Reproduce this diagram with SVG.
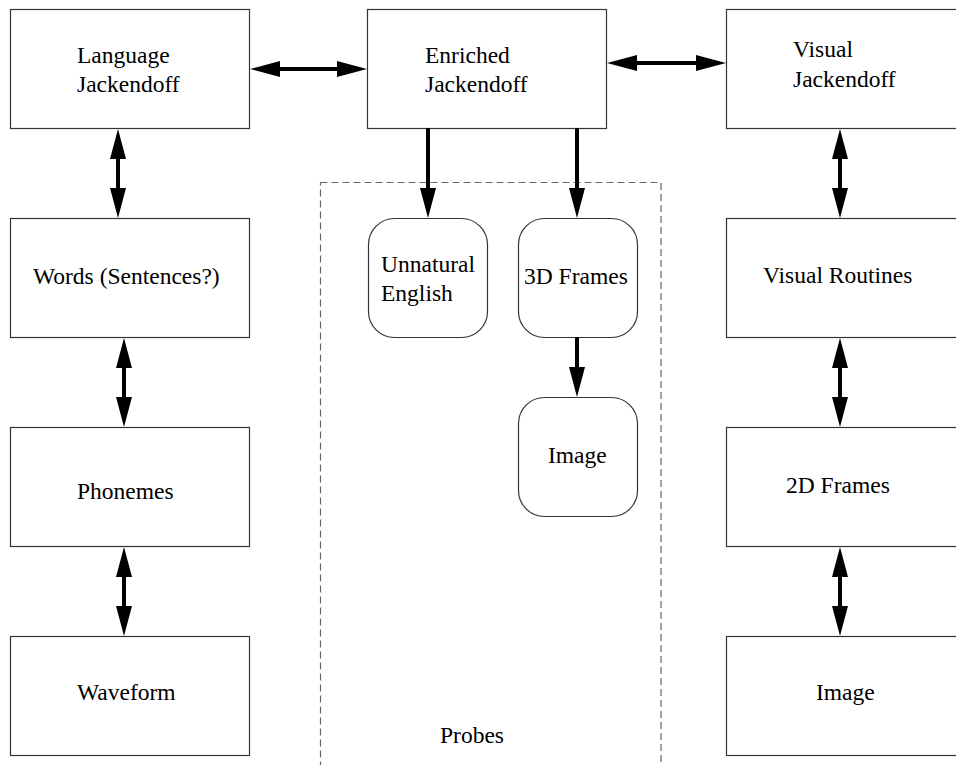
<svg xmlns="http://www.w3.org/2000/svg" width="956" height="765" viewBox="0 0 956 765">
<style>
.box{fill:#fff;stroke:#333;stroke-width:1.2}
.t{font-family:"Liberation Serif","Times New Roman",serif;font-size:23.5px;fill:#000}
.c{stroke:#000;stroke-width:4;fill:none}
.dash{fill:none;stroke:#666;stroke-width:1.2;stroke-dasharray:7 4}
</style>
<defs>
<marker id="ah" viewBox="0 0 30 16" refX="15" refY="8" markerWidth="30" markerHeight="16" markerUnits="userSpaceOnUse" orient="auto-start-reverse">
<path d="M0,0 L30,8 L0,16 z" fill="#000"/>
</marker>
</defs>
<rect width="956" height="765" fill="#fff"/>
<rect class="dash" x="320.5" y="182.5" width="340.5" height="640"/>
<text class="t" x="440" y="743">Probes</text>

<g id="language-jackendoff"><rect class="box" x="10.5" y="9.5" width="239" height="119"/><text class="t" x="77" y="63">Language</text><text class="t" x="77" y="92">Jackendoff</text></g>
<g id="words"><rect class="box" x="10.5" y="218.5" width="239" height="119"/><text class="t" x="33" y="284">Words (Sentences?)</text></g>
<g id="phonemes"><rect class="box" x="10.5" y="427.5" width="239" height="119"/><text class="t" x="77" y="499">Phonemes</text></g>
<g id="waveform"><rect class="box" x="10.5" y="636.5" width="239" height="119"/><text class="t" x="77" y="700">Waveform</text></g>

<g id="enriched-jackendoff"><rect class="box" x="367.5" y="9.5" width="239" height="119"/><text class="t" x="425" y="63">Enriched</text><text class="t" x="425" y="92">Jackendoff</text></g>
<g id="unnatural-english"><rect class="box" x="368.5" y="218.5" width="119" height="119" rx="26"/><text class="t" x="381" y="272">Unnatural</text><text class="t" x="381" y="301">English</text></g>
<g id="frames3d"><rect class="box" x="518.5" y="218.5" width="119" height="119" rx="26"/><text class="t" x="524" y="284">3D Frames</text></g>
<g id="image-mid"><rect class="box" x="518.5" y="397.5" width="119" height="119" rx="26"/><text class="t" x="548" y="463">Image</text></g>

<g id="visual-jackendoff"><rect class="box" x="726.5" y="9.5" width="239" height="119"/><text class="t" x="793" y="57">Visual</text><text class="t" x="793" y="87">Jackendoff</text></g>
<g id="visual-routines"><rect class="box" x="726.5" y="218.5" width="239" height="119"/><text class="t" x="763" y="283">Visual Routines</text></g>
<g id="frames2d"><rect class="box" x="726.5" y="427.5" width="239" height="119"/><text class="t" x="786" y="493">2D Frames</text></g>
<g id="image-right"><rect class="box" x="726.5" y="636.5" width="239" height="119"/><text class="t" x="816" y="700">Image</text></g>

<g id="connectors">
<line class="c" x1="265" y1="69" x2="352" y2="69" marker-start="url(#ah)" marker-end="url(#ah)"/>
<line class="c" x1="622" y1="63" x2="711" y2="63" marker-start="url(#ah)" marker-end="url(#ah)"/>
<line class="c" x1="118" y1="144" x2="118" y2="203" marker-start="url(#ah)" marker-end="url(#ah)"/>
<line class="c" x1="124" y1="353" x2="124" y2="412" marker-start="url(#ah)" marker-end="url(#ah)"/>
<line class="c" x1="124" y1="562" x2="124" y2="621" marker-start="url(#ah)" marker-end="url(#ah)"/>
<line class="c" x1="840" y1="144" x2="840" y2="203" marker-start="url(#ah)" marker-end="url(#ah)"/>
<line class="c" x1="840" y1="353" x2="840" y2="412" marker-start="url(#ah)" marker-end="url(#ah)"/>
<line class="c" x1="840" y1="562" x2="840" y2="621" marker-start="url(#ah)" marker-end="url(#ah)"/>
<line class="c" x1="428" y1="128" x2="428" y2="203" marker-end="url(#ah)"/>
<line class="c" x1="577" y1="128" x2="577" y2="203" marker-end="url(#ah)"/>
<line class="c" x1="577" y1="337" x2="577" y2="382" marker-end="url(#ah)"/>
</g>
</svg>
